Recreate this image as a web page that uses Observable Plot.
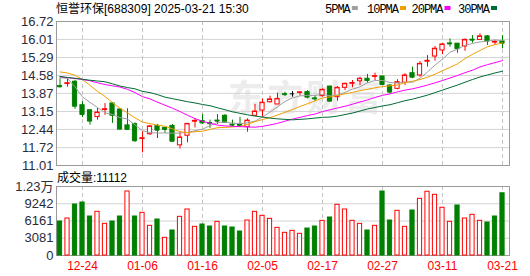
<!DOCTYPE html>
<html><head><meta charset="utf-8">
<script src="https://cdn.jsdelivr.net/npm/d3@7"></script>
<script src="https://cdn.jsdelivr.net/npm/@observablehq/plot@0.6"></script>
<style>
body{margin:0;background:#fff;}
#wrap{position:relative;width:530px;height:276px;overflow:hidden;}
#wrap > svg{position:absolute;left:0;}
</style></head><body><div id="wrap"></div>
<script>
// ---------- data ----------
const dates = ["12-19","12-20","12-23","12-24","12-25","12-26","12-27","12-30","12-31","01-02",
"01-03","01-06","01-07","01-08","01-09","01-10","01-13","01-14","01-15","01-16",
"01-17","01-20","01-21","01-22","01-23","01-24","01-27","02-05","02-06","02-07",
"02-10","02-11","02-12","02-13","02-14","02-17","02-18","02-19","02-20","02-21",
"02-24","02-25","02-26","02-27","02-28","03-03","03-04","03-05","03-06","03-07",
"03-10","03-11","03-12","03-13","03-14","03-17","03-18","03-19","03-20","03-21"];
const opens = [14.16,14.24,14.33,13.40,13.20,12.93,13.21,13.47,13.23,12.60,
12.65,12.06,12.25,12.57,12.50,12.58,11.81,12.19,12.75,12.77,
12.69,12.79,12.98,12.63,12.62,12.53,12.98,13.19,13.52,13.43,
13.84,13.85,13.89,13.92,13.67,13.76,14.14,13.72,14.09,14.26,
14.35,14.45,14.53,14.54,14.18,14.05,14.29,14.67,14.58,15.13,
15.33,15.57,15.85,15.84,15.73,16.00,15.99,16.13,15.89,15.93];
const highs = [14.45,14.43,14.39,13.54,13.22,13.27,13.47,13.49,13.26,13.26,
12.70,12.35,12.60,12.64,12.51,12.64,12.35,12.68,12.87,13.03,
12.81,13.03,13.03,12.81,12.92,12.86,13.43,13.65,13.76,13.88,
13.92,13.94,13.92,13.98,13.79,14.05,14.16,14.14,14.27,14.38,
14.51,14.62,14.67,14.55,14.22,14.41,14.65,14.91,15.13,15.37,
15.73,15.84,16.03,15.85,16.03,16.16,16.23,16.16,15.97,16.16];
const lows = [14.09,14.12,13.24,12.91,12.61,12.81,13.00,12.68,12.42,12.40,
11.93,11.51,12.20,12.08,12.28,11.95,11.66,11.91,12.50,12.64,
12.48,12.64,12.68,12.54,12.55,12.33,12.95,12.90,13.48,13.43,
13.75,13.72,13.76,13.65,13.56,13.72,13.55,13.56,13.98,14.09,
14.18,14.27,14.38,14.18,13.85,14.01,14.18,14.45,14.51,14.91,
15.15,15.41,15.70,15.46,15.54,15.86,15.99,15.77,15.77,15.64];
const closes = [14.13,14.27,13.36,13.03,12.77,13.11,13.24,13.00,12.45,12.44,
11.99,12.09,12.56,12.41,12.44,11.97,12.12,12.66,12.78,12.70,
12.67,12.77,12.72,12.61,12.60,12.79,13.15,13.50,13.63,13.65,
13.82,13.85,13.91,13.72,13.65,14.01,13.56,14.09,14.25,14.28,
14.45,14.38,14.55,14.22,13.92,14.31,14.58,14.51,15.04,15.16,
15.64,15.81,15.83,15.64,15.99,15.98,16.13,15.94,15.91,15.86];
const volumes = [6072,6608,9109,9466,6965,7800,5655,6072,6965,11430,
6965,7620,5298,6430,3155,4465,6906,8216,5119,5537,
5179,6012,5179,5000,4286,6251,7800,7085,6550,4940,
4050,4405,3870,4822,5179,6190,6787,9050,8216,6190,
5655,4465,5298,11430,6251,7980,5119,8037,10120,11380,
10840,8520,6012,8930,6608,7270,6190,5894,6965,11112];
const volUp = [0,1,0,0,0,1,1,0,0,1, 0,1,1,0,1,0,1,1,1,0,
0,1,0,0,0,1,1,1,1,1, 1,1,1,0,0,1,0,1,1,1,
1,0,1,0,0,1,1,0,1,1, 1,1,1,0,1,1,1,0,0,0];
const ma5 = [14.50,14.46,14.13,13.73,13.51,13.31,13.10,13.03,12.91,12.85,
12.62,12.39,12.31,12.30,12.30,12.29,12.30,12.32,12.39,12.45,
12.59,12.72,12.73,12.69,12.67,12.70,12.77,12.93,13.13,13.34,
13.55,13.69,13.77,13.79,13.79,13.83,13.77,13.81,13.91,14.04,
14.13,14.29,14.38,14.38,14.30,14.28,14.32,14.31,14.47,14.72,
14.99,15.23,15.50,15.62,15.78,15.85,15.91,15.94,15.99,15.96];
const ma10 = [14.72,14.68,14.59,14.42,14.19,13.95,13.75,13.50,13.28,13.10,
12.90,12.73,12.67,12.61,12.57,12.46,12.35,12.31,12.35,12.37,
12.44,12.51,12.52,12.54,12.56,12.64,12.75,12.83,12.91,13.01,
13.12,13.23,13.35,13.46,13.57,13.69,13.73,13.79,13.85,13.91,
13.98,14.03,14.09,14.14,14.17,14.20,14.30,14.35,14.42,14.51,
14.63,14.77,14.90,15.04,15.25,15.42,15.57,15.72,15.80,15.87];
const ma20 = [14.53,14.49,14.46,14.42,14.37,14.29,14.22,14.17,14.12,14.03,
13.90,13.74,13.65,13.52,13.40,13.28,13.15,13.00,12.87,12.76,
12.69,12.61,12.58,12.56,12.55,12.54,12.53,12.56,12.62,12.68,
12.77,12.85,12.92,12.99,13.05,13.15,13.22,13.29,13.36,13.44,
13.53,13.61,13.71,13.79,13.85,13.93,14.00,14.05,14.12,14.20,
14.29,14.38,14.48,14.58,14.69,14.79,14.92,15.01,15.09,15.17];
const ma30 = [14.54,14.50,14.47,14.43,14.39,14.36,14.33,14.25,14.16,14.10,
14.05,13.95,13.90,13.82,13.72,13.66,13.60,13.54,13.49,13.43,
13.38,13.30,13.22,13.14,13.08,13.02,12.97,12.93,12.89,12.86,
12.84,12.82,12.84,12.86,12.89,12.92,12.93,12.97,13.03,13.09,
13.17,13.25,13.31,13.37,13.42,13.50,13.58,13.64,13.72,13.80,
13.90,14.00,14.10,14.20,14.31,14.42,14.52,14.60,14.68,14.75];
const xTickLabels = ["12-24","01-06","01-16","02-05","02-17","02-27","03-11","03-21"];
const priceTickLabels = ["11.01","11.72","12.44","13.15","13.87","14.58","15.29","16.01","16.72"];
const volTickLabels = ["0","3081","6161","9242","1.23万"];
const volTickValues = [0,3081,6161,9242,12323];
const maNames = ["5PMA","10PMA","20PMA","30PMA"];
const maColors = ["#a0a0a0","#f0a000","#ff00ff","#006b33"];
const title = "恒誉环保[688309] 2025-03-21 15:30";
const volTitle = "成交量:11112";

// ---------- build ----------
const RED = "#ff0000", GREEN = "#008000";
const rows = dates.map((d,i)=>({i,d,o:opens[i],h:highs[i],l:lows[i],c:closes[i],v:volumes[i],vu:volUp[i],
  m5:ma5[i],m10:ma10[i],m20:ma20[i],m30:ma30[i]}));
const col = d => d.c > d.o ? RED : d.c < d.o ? GREEN : "#000";
const xTickIdx = xTickLabels.map(t => dates.indexOf(t));
const priceVals = priceTickLabels.map(Number);
const HW = 0.28;
const FONT = "'Liberation Sans', Arial, 'Noto Sans CJK SC', sans-serif";
const xScale = {type:"linear", domain:[-0.467, 59.933]};

const wrap = document.getElementById("wrap");

// watermark (behind)
const back = d3.select(wrap).append("svg").attr("width",530).attr("height",276).style("top","0px");
back.append("text").attr("x",228).attr("y",111).attr("font-size",36).attr("font-weight","bold")
  .attr("font-family","'Noto Sans CJK SC', sans-serif").attr("fill","#ececec").attr("letter-spacing",3).text("东方财富");

const price = Plot.plot({
  width:530, height:170, marginTop:21, marginBottom:5, marginLeft:56, marginRight:21,
  style:{background:"transparent", fontFamily:FONT, fontSize:"13px", overflow:"visible"},
  x:{...xScale, axis:null},
  y:{domain:[11.01,16.72]},
  marks:[
    Plot.ruleY(priceVals, {stroke:"#d4d4d4"}),
    Plot.ruleX(xTickIdx, {stroke:"#c4c4c4", strokeDasharray:"4,3"}),
    Plot.frame({stroke:"#9a9a9a"}),
    Plot.ruleX(rows, {x:"i", y1:"l", y2:"h", stroke:col}),
    Plot.rect(rows, {x1:d=>d.i-HW, x2:d=>d.i+HW, y1:"o", y2:"c", fill:d=>d.c>d.o?"#fff":col(d), stroke:col}),
    Plot.ruleY(rows, {x1:d=>d.i-HW, x2:d=>d.i+HW, y:"c", stroke:col}),
    Plot.line(rows, {x:"i", y:"m5", stroke:maColors[0], strokeWidth:1}),
    Plot.line(rows, {x:"i", y:"m10", stroke:maColors[1], strokeWidth:1}),
    Plot.line(rows, {x:"i", y:"m20", stroke:maColors[2], strokeWidth:1}),
    Plot.line(rows, {x:"i", y:"m30", stroke:maColors[3], strokeWidth:1}),
    Plot.axisY({ticks:priceVals, tickFormat:d=>priceTickLabels[priceVals.indexOf(d)], tickSize:0, tickPadding:3, fill:"#2b2b3a", fontSize:13, label:null})
  ]
});
price.style.top = "0px";
wrap.appendChild(price);

const vol = Plot.plot({
  width:530, height:106, marginTop:16, marginBottom:21, marginLeft:56, marginRight:21,
  style:{background:"transparent", fontFamily:FONT, fontSize:"13px", overflow:"visible"},
  x:{...xScale},
  y:{domain:[0,12323]},
  marks:[
    Plot.ruleY(volTickValues, {stroke:"#d4d4d4"}),
    Plot.ruleX(xTickIdx, {stroke:"#c4c4c4", strokeDasharray:"4,3"}),
    Plot.frame({stroke:"#9a9a9a"}),
    Plot.rect(rows, {x1:d=>d.i-HW, x2:d=>d.i+HW, y1:0, y2:"v", fill:d=>d.vu?"#fff":GREEN, stroke:d=>d.vu?RED:GREEN}),
    Plot.axisY({ticks:volTickValues, tickFormat:d=>volTickLabels[volTickValues.indexOf(d)], tickSize:0, tickPadding:3, fill:"#2b2b3a", fontSize:13, label:null}),
    Plot.axisX({ticks:xTickIdx, tickFormat:i=>dates[i], tickSize:0, tickPadding:6, fill:"#ff0000", fontSize:12, label:null})
  ]
});
vol.style.top = "170px";
wrap.appendChild(vol);

// header / labels (front)
const front = d3.select(wrap).append("svg").attr("width",530).attr("height",276).style("top","0px").style("pointer-events","none");
front.append("text").attr("x",56).attr("y",13).attr("font-size",12).attr("font-family",FONT).attr("fill","#000").text(title);
const legX = [325,367,411.5,458];
maNames.forEach((n,k)=>{
  const t = front.append("text").attr("x",legX[k]).attr("y",13).attr("font-size",12).attr("letter-spacing",-1)
    .attr("font-family","'Liberation Mono', monospace").attr("fill","#000").text(n);
  const w = t.node().getComputedTextLength();
  front.append("rect").attr("x",legX[k]+w+2).attr("y",6).attr("width",6).attr("height",4).attr("fill",maColors[k]);
});
front.append("text").attr("x",57).attr("y",182).attr("font-size",12).attr("font-family",FONT).attr("fill","#000").text(volTitle);
</script></body></html>
